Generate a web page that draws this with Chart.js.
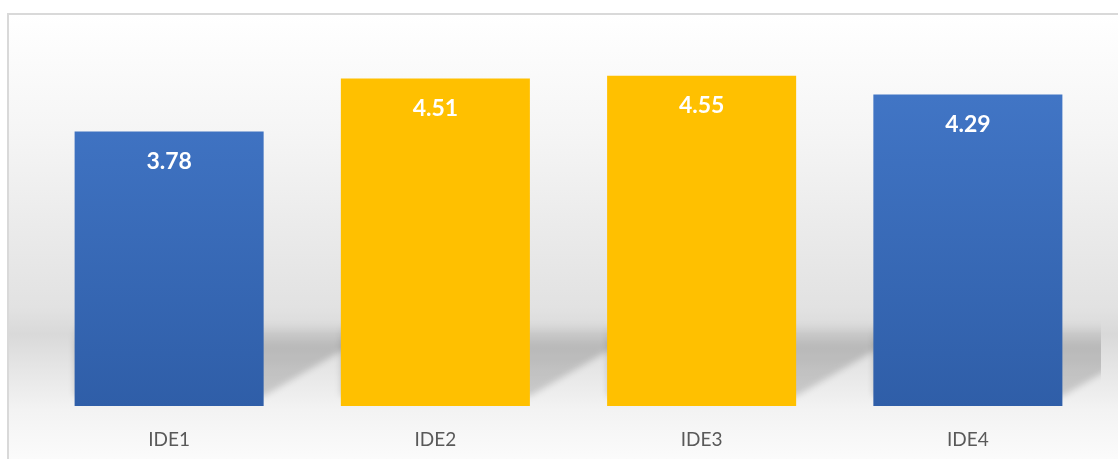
<!DOCTYPE html>
<html>
<head>
<meta charset="utf-8">
<script src="https://cdn.jsdelivr.net/npm/chart.js@4.4.1/dist/chart.umd.min.js"></script>
<style>
  html, body { margin: 0; padding: 0; background: #fff; }
  canvas { display: block; }
</style>
</head>
<body>
<canvas id="chart" width="1118" height="459"></canvas>
<script>
const categories = ['IDE1', 'IDE2', 'IDE3', 'IDE4'];
const scores = [3.78, 4.51, 4.55, 4.29];
const barColors = ['blue', 'yellow', 'yellow', 'blue'];

// background panel with the grey "floor" band + border
const panelBg = {
  id: 'panelBg',
  beforeDraw(chart) {
    const ctx = chart.ctx;
    const w = chart.width, h = chart.height;
    ctx.save();
    const g = ctx.createLinearGradient(0, 13, 0, h);
    g.addColorStop(0, '#ffffff');
    g.addColorStop(0.27, '#f5f5f5');
    g.addColorStop(0.66, '#e2e2e2');
    g.addColorStop(0.72, '#d9d9d9');
    g.addColorStop(0.80, '#e6e6e6');
    g.addColorStop(0.89, '#f3f3f3');
    g.addColorStop(1, '#fbfbfb');
    ctx.fillStyle = g;
    ctx.fillRect(8, 14, w, h);
    ctx.strokeStyle = '#d9d9d9';
    ctx.lineWidth = 2;
    ctx.strokeRect(8, 14, w + 10, h + 10);
    ctx.restore();
  }
};

// soft perspective shadow behind each bar
const barShadow = {
  id: 'barShadow',
  beforeDatasetsDraw(chart) {
    const ctx = chart.ctx;
    const area = chart.chartArea;
    ctx.save();
    ctx.beginPath();
    ctx.rect(area.left, area.top, area.right - area.left, area.bottom - area.top);
    ctx.clip();
    ctx.filter = 'blur(3px)';
    chart.getDatasetMeta(0).data.forEach(bar => {
      const left = bar.x - bar.width / 2;
      const right = bar.x + bar.width / 2;
      const base = bar.base;
      const g = ctx.createLinearGradient(0, base - 82, 0, base);
      g.addColorStop(0, 'rgba(0,0,0,0)');
      g.addColorStop(0.28, 'rgba(0,0,0,0.17)');
      g.addColorStop(1, 'rgba(0,0,0,0.15)');
      ctx.fillStyle = g;
      ctx.beginPath();
      ctx.moveTo(left, base - 82);
      ctx.lineTo(right + 95, base - 82);
      ctx.lineTo(right + 95, base - 65);
      ctx.lineTo(right, base - 10);
      ctx.lineTo(left, base - 10);
      ctx.closePath();
      ctx.fill();
    });
    ctx.restore();
  }
};

const valueLabels = {
  id: 'valueLabels',
  afterDatasetsDraw(chart) {
    const ctx = chart.ctx;
    ctx.save();
    ctx.font = 'bold 23px Lato, "Open Sans", sans-serif';
    ctx.fillStyle = '#ffffff';
    ctx.textAlign = 'center';
    ctx.textBaseline = 'middle';
    chart.getDatasetMeta(0).data.forEach((bar, i) => {
      ctx.fillText(scores[i].toFixed(2), bar.x, bar.y + 30);
    });
    ctx.restore();
  }
};

function barFill(context) {
  const chart = context.chart;
  const area = chart.chartArea;
  if (!area) return '#4472c4';
  if (barColors[context.dataIndex] === 'yellow') return '#ffc000';
  const g = chart.ctx.createLinearGradient(0, area.top, 0, area.bottom);
  g.addColorStop(0, '#4479ca');
  g.addColorStop(1, '#2f5ea8');
  return g;
}

new Chart(document.getElementById('chart'), {
  type: 'bar',
  data: {
    labels: categories,
    datasets: [{
      data: scores,
      backgroundColor: barFill,
      borderWidth: 0,
      barPercentage: 0.71,
      categoryPercentage: 1
    }]
  },
  options: {
    responsive: false,
    animation: false,
    layout: { padding: { left: 36, right: 17, top: 43, bottom: 11 } },
    plugins: { legend: { display: false }, tooltip: { enabled: false } },
    scales: {
      x: {
        grid: { display: false, drawTicks: false },
        border: { display: false },
        ticks: { color: '#595959', font: { size: 19, family: 'Lato, "Open Sans", sans-serif' }, padding: 22 },
        afterFit: s => { s.height = 42; }
      },
      y: { display: false, min: 0, max: 5 }
    }
  },
  plugins: [panelBg, barShadow, valueLabels]
});
</script>
</body>
</html>
